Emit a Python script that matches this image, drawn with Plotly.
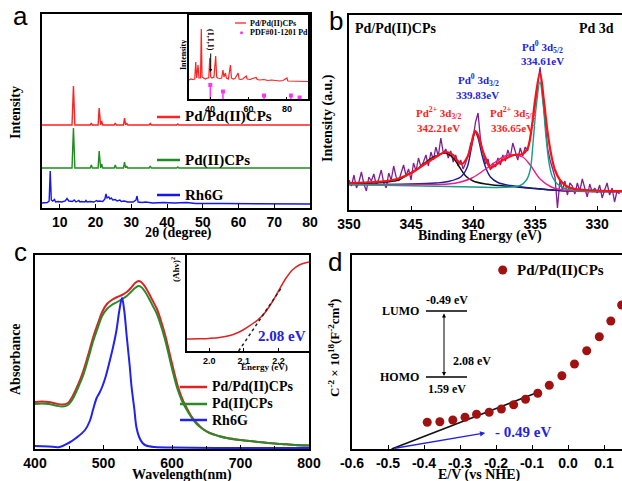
import plotly.graph_objects as go

W, H = 622, 481
SERIF = "Liberation Serif"
SANS = "Liberation Sans"

# ---------------- Panel a : XRD ----------------
xrd_red_x = [5, 10, 13.4, 13.8, 14.2, 18.5, 18.8, 19.1, 20.7, 21.0, 21.4, 21.7, 22.0, 25.2, 25.5, 25.8,
             27.8, 28.1, 28.4, 28.7, 29.0, 35.0, 35.3, 35.6, 42.7, 43.0, 43.3, 80]
xrd_red_y = [83, 83, 83, 122, 83, 83, 85, 83, 83, 100, 83, 87, 83, 83, 85, 83,
             83, 90, 83, 85, 83, 83, 84.5, 83, 83, 84, 83, 83]
xrd_green_x = xrd_red_x
xrd_green_y = [40, 40, 40, 80, 40, 40, 43, 40, 40, 57, 40, 44, 40, 40, 43, 40,
               40, 46, 40, 42, 40, 40, 42, 40, 40, 41, 40, 40]
xrd_blue_x = [5, 6.5, 7.0, 7.3, 7.6, 8.0, 8.5, 8.8, 9.5, 10.5, 11.5, 12.0, 12.5, 13.5, 14.0, 14.5,
              15.3, 15.6, 16, 17, 17.3, 17.6, 18.5, 19.5, 20.3, 20.6, 21, 22.0, 22.6, 22.9, 23.2,
              23.7, 24.0, 24.4, 24.8, 25.5, 26.0, 26.8, 27.2, 28.0, 29.0, 30.5, 31.3, 31.6, 31.9,
              33, 34, 36, 39, 42, 45.5, 48, 55, 65, 80]
xrd_blue_y = [5, 5.5, 7, 37, 8, 7, 8.5, 6, 6.5, 6, 7, 9.5, 7, 6.5, 8, 6,
              7.5, 6, 6.5, 6, 7.5, 6, 6.5, 6, 7.5, 6.5, 7, 6.5, 9, 14, 10,
              11, 9, 10, 8, 8.5, 7, 8, 6.5, 7, 6, 6, 8, 12, 6,
              5.5, 6, 5, 5.5, 5, 5.5, 4.5, 4.5, 4, 4]
xrd_ticks = [10, 20, 30, 40, 50, 60, 70, 80]

# inset a
ins_a_x = [29, 30, 31, 32, 32.5, 33.0, 33.7, 34.2, 35.0, 35.4, 35.8, 36.5, 37.5, 38.5, 39.3, 39.8,
           40.3, 41, 42, 42.9, 43.4, 44, 45, 46, 46.7, 47.2, 48, 48.5, 49.5, 50.6, 51.1, 52, 53,
           54.6, 55.1, 56, 57, 58.8, 59.3, 61, 62, 64, 64.5, 66, 68, 70, 72, 74, 76, 78, 80, 80.5,
           83, 86, 88, 91]
ins_a_y = [19, 20, 19.5, 20, 37, 21, 34, 21, 21, 70, 22, 21, 20, 21, 21, 41,
           22, 21, 22, 43, 22, 21, 20.5, 21, 29, 22, 26, 21, 20, 34, 21, 20, 20.5,
           26, 20, 19.5, 20, 23, 20, 19.5, 20.5, 21.5, 19.5, 19, 19.5, 18.5, 19, 18.5, 18, 18.5, 21, 18,
           18, 17.5, 18, 17.5]
pdf_x = [40.1, 46.7, 68.1, 82.1, 86.6]
pdf_h = [14, 7.5, 3.5, 3.5, 1.5]
ins_a_ticks = [40, 60, 80]

# ---------------- Panel b : XPS ----------------
raw_E = [round(350 - 0.2 * i, 1) for i in range(110)]
raw_I = [30, 24, 35, 22, 28, 38, 26, 19, 33, 29,
         36, 25, 31, 40, 27, 22, 37, 30, 44, 33,
         29, 38, 45, 34, 41, 30, 47, 39, 52, 43,
         48, 55, 44, 58, 50, 63, 54, 72, 57, 61,
         52, 59, 48, 55, 44, 50, 41, 47, 55, 66,
         72, 88, 97, 70, 58, 46, 51, 40, 47, 43,
         52, 45, 55, 49, 60, 53, 67, 58, 50, 62,
         54, 63, 59, 72, 88, 105, 125, 143, 115, 85,
         62, 50, 41, 33, 2, 30, 20, 29, 15, 27,
         24, 16, 27, 19, 31, 21, 13, 26, 18, 22,
         17, 25, 12, 20, 27, 15, 22, 8, 19, 16]

fit_black_E = [350, 348, 347, 346, 345.3, 344.5, 343.8, 343, 342.21, 341.6, 341.1, 340.6, 340, 339,
               337.5, 335, 333, 329, 328]
fit_black_I = [26, 27, 28, 30, 35, 41, 48, 54, 57, 52, 43, 34, 29, 26, 24, 21.5, 19.5, 18.5, 18.5]
fit_blue_E = [350, 345, 343, 342, 341, 340.5, 340.2, 339.95, 339.83, 339.6, 339.3, 339, 338.6, 338,
              337, 335, 333, 329, 328]
fit_blue_I = [25.5, 26, 27, 28.5, 33, 42, 58, 74, 78, 72, 56, 43, 33, 27.5, 24.5, 21.5, 19.5, 18.5, 18.5]
fit_mag_E = [350, 344, 342, 341, 340.1, 339.1, 338.2, 337.4, 336.65, 336, 335.4, 334.6, 333.7, 333,
             332, 329, 328]
fit_mag_I = [25.5, 25.5, 26, 28, 32, 40, 48, 54, 55, 53, 45, 31, 23, 20.5, 19, 18.5, 18.5]
fit_teal_E = [350, 340, 338, 337, 336.2, 335.7, 335.4, 335.15, 334.9, 334.61, 334.35, 334.1, 333.85,
              333.6, 333.2, 332.5, 331, 329, 328]
fit_teal_I = [25.5, 23, 22.5, 23, 24.5, 30, 40, 70, 105, 128, 105, 70, 45, 33, 26, 21, 19, 18.5, 18.5]
fit_sum_E = [350, 348, 347, 346, 345, 344, 343, 342.2, 341.6, 341.3, 340.9, 340.5, 340.2, 340.0,
             339.83, 339.6, 339.3, 339.0, 338.6, 338.3, 337.6, 336.7, 336.0, 335.6, 335.3, 335.0,
             334.61, 334.3, 334.0, 333.7, 333.4, 333.0, 332.5, 332.0, 331, 329, 328]
fit_sum_I = [27, 28, 29, 31.5, 37, 45, 53, 58, 55, 50, 46, 52, 62, 74,
             79, 75, 62, 52, 42, 44, 50, 55, 56, 62, 80, 110,
             137, 110, 78, 55, 40, 30, 24, 21.5, 20, 19, 19]
xps_ticks = [350, 345, 340, 335, 330]

# ---------------- Panel c : UV-vis ----------------
uv_red_x = [400, 410, 420, 430, 440, 448, 455, 462, 470, 478, 485, 492, 498, 505, 512, 520, 527, 534,
            540, 546, 551, 555, 560, 566, 572, 578, 584, 590, 596, 602, 608, 614, 620, 628, 636, 645,
            655, 668, 680, 700, 720, 740, 760, 780, 800]
uv_red_y = [47, 47.5, 47, 45.5, 44.5, 46, 53, 63, 77, 95, 112, 126, 137, 145, 149, 152, 154, 157,
            161, 166, 168, 167, 163, 156, 148, 140, 128, 114, 97, 80, 64, 52, 43, 33, 26, 20,
            16, 13, 11, 9, 7.5, 6, 5, 4, 3.5]
uv_green_x = uv_red_x
uv_green_y = [45, 45.5, 45, 43.5, 42.5, 44, 50, 60, 73, 91, 108, 122, 133, 140, 144, 147, 150, 153,
              157, 161, 163, 162, 158, 151, 143, 135, 123, 109, 92, 75, 60, 49, 41, 32, 25, 20,
              16, 13, 11, 9, 7.5, 6, 5, 4, 3.5]
uv_blue_x = [400, 420, 436, 449, 460, 473, 480, 485, 490, 494, 498, 503, 508, 514, 519, 523, 527,
             530, 534, 538, 541, 545, 548, 552, 557, 562, 575, 600, 700, 800]
uv_blue_y = [3, 2.5, 2, 6, 11, 19, 28, 40, 51, 56, 62, 72, 85, 102, 119, 138, 151,
             140, 112, 85, 62, 40, 22, 12, 6, 3.5, 2, 1.5, 1, 1]
uv_ticks = [400, 500, 600, 700, 800]

tauc_x = [1.936, 1.97, 2.0, 2.03, 2.06, 2.08, 2.10, 2.12, 2.14, 2.16, 2.18, 2.20, 2.22, 2.24, 2.26, 2.288]
tauc_y = [12, 12.2, 12.6, 13.5, 15.5, 18, 21.5, 26, 31, 38, 48, 60, 72, 81, 86, 89]
tangent_x = [2.085, 2.21]
tangent_y = [0, 64]
tauc_ticks = [2.0, 2.1, 2.2]

# ---------------- Panel d : Mott-Schottky ----------------
ms_x = [-0.391, -0.356, -0.320, -0.286, -0.254, -0.219, -0.185, -0.151, -0.118, -0.084,
        -0.052, -0.017, 0.018, 0.052, 0.087, 0.119, 0.149]
ms_y = [26.7, 27.3, 29, 31.7, 34.7, 36.7, 40, 44.3, 49.7, 55.7,
        63.7, 73.3, 85, 98.3, 112.3, 128, 144]
ms_fit_x = [-0.49, -0.078]
ms_fit_y = [0, 57.5]
ms_ticks = [-0.6, -0.5, -0.4, -0.3, -0.2, -0.1, 0.0, 0.1]
ms_ticktext = ["-0.6", "-0.5", "-0.4", "-0.3", "-0.2", "-0.1", "0.0", "0.1"]


def PX(x):
    return x / W


def PY(y):
    return 1 - y / H


fig = go.Figure()


def line(x, y, color, width, xa, ya, shape="linear", dash=None):
    fig.add_trace(go.Scatter(x=x, y=y, mode="lines", xaxis=xa, yaxis=ya,
                             line=dict(color=color, width=width, shape=shape, dash=dash),
                             hoverinfo="skip"))


# panel a
line(xrd_red_x, xrd_red_y, "#ff2222", 1.4, "x", "y")
line(xrd_green_x, xrd_green_y, "#1e8c1e", 1.4, "x", "y")
line(xrd_blue_x, xrd_blue_y, "#1515ee", 1.4, "x", "y")
# inset a
line(ins_a_x, ins_a_y, "#ff2222", 1.2, "x2", "y2")
stick_x, stick_y = [], []
for xv, hv in zip(pdf_x, pdf_h):
    stick_x += [xv, xv, None]
    stick_y += [0, hv, None]
line(stick_x, stick_y, "#ff33ff", 1.5, "x2", "y2")
fig.add_trace(go.Scatter(x=pdf_x, y=pdf_h, mode="markers", xaxis="x2", yaxis="y2",
                         marker=dict(color="#ff33ff", size=4, symbol="square")))

# panel b
line(raw_E, raw_I, "#7f1f8f", 1.3, "x3", "y3")
line(fit_black_E, fit_black_I, "#111111", 1.4, "x3", "y3", "spline")
line(fit_blue_E, fit_blue_I, "#1a1a9a", 1.4, "x3", "y3", "spline")
line(fit_mag_E, fit_mag_I, "#ee1a8a", 1.4, "x3", "y3", "spline")
line(fit_teal_E, fit_teal_I, "#1a9a8a", 1.4, "x3", "y3", "spline")
line(fit_sum_E, fit_sum_I, "#ff1010", 2.2, "x3", "y3", "spline")

# panel c
line(uv_red_x, uv_red_y, "#dd2222", 2.0, "x4", "y4", "spline")
line(uv_green_x, uv_green_y, "#2a8a2a", 2.0, "x4", "y4", "spline")
line(uv_blue_x, uv_blue_y, "#2222ee", 2.0, "x4", "y4", "spline")
# inset c
line(tauc_x, tauc_y, "#dd2222", 1.5, "x5", "y5", "spline")
line(tangent_x, tangent_y, "#222222", 1.5, "x5", "y5", dash="dot")

# panel d
line(ms_fit_x, ms_fit_y, "#111111", 1.6, "x6", "y6")
fig.add_trace(go.Scatter(x=ms_x, y=ms_y, mode="markers", xaxis="x6", yaxis="y6",
                         marker=dict(color="#a01212", size=9)))

tickfont = dict(family=SANS, size=14, color="black", weight="bold")
small_tickfont = dict(family=SANS, size=9, color="black", weight="bold")
base = dict(showline=True, linecolor="black", linewidth=1.5, showgrid=False, zeroline=False,
            tickcolor="black", tickwidth=1.3, automargin=False)
noy = dict(showticklabels=False, ticks="")

layout = dict(
    width=W, height=H, margin=dict(l=0, r=0, t=0, b=0, pad=0, autoexpand=False), showlegend=False,
    paper_bgcolor="white", plot_bgcolor="white",
    xaxis=dict(domain=[42 / W, 310 / W], range=[5, 80], anchor="y", tickvals=xrd_ticks,
               ticks="inside", ticklen=4, tickfont=tickfont, mirror=True, **base),
    yaxis=dict(domain=[PY(208), PY(14)], range=[0, 194], anchor="x", mirror=True, **noy, **base),
    xaxis2=dict(domain=[189 / W, 308 / W], range=[29, 91], anchor="y2", tickvals=ins_a_ticks,
                ticks="inside", ticklen=2, tickfont=small_tickfont, mirror=True, **base),
    yaxis2=dict(domain=[PY(99), PY(15)], range=[0, 84], anchor="x2", mirror=True, **noy, **base),
    xaxis3=dict(domain=[349 / W, 1], range=[350, 328], anchor="y3", tickvals=xps_ticks,
                ticks="inside", ticklen=4, tickfont=tickfont, mirror=True, **base),
    yaxis3=dict(domain=[PY(210), PY(15)], range=[0, 195], anchor="x3", mirror=False, **noy, **base),
    xaxis4=dict(domain=[35 / W, 309 / W], range=[400, 800], anchor="y4", tickvals=uv_ticks,
                ticks="inside", ticklen=4, tickfont=tickfont, mirror=True,
                minor=dict(dtick=50, ticks="inside", ticklen=3, tickcolor="black"), **base),
    yaxis4=dict(domain=[PY(449), PY(255)], range=[0, 194], anchor="x4", mirror=True, **noy, **base),
    xaxis5=dict(domain=[187 / W, 309 / W], range=[1.936, 2.288], anchor="y5", tickvals=tauc_ticks,
                ticktext=["2.0", "2.1", "2.2"], ticks="inside", ticklen=3,
                tickfont=small_tickfont, mirror=True, **base),
    yaxis5=dict(domain=[PY(351), PY(255)], range=[0, 96], anchor="x5", mirror=True, **noy, **base),
    xaxis6=dict(domain=[352 / W, 1], range=[-0.6, 0.15], anchor="y6", tickvals=ms_ticks,
                ticktext=ms_ticktext, ticks="inside", ticklen=4, tickfont=tickfont, mirror=True,
                **base),
    yaxis6=dict(domain=[PY(449), PY(255)], range=[0, 194], anchor="x6", mirror=False, **noy, **base),
)
fig.update_layout(**layout)

anns = []


def ann(text, x, y, size, color="black", xanchor="center", angle=0, family=SERIF, bold=True):
    t = f"<b>{text}</b>" if bold else text
    anns.append(dict(text=t, x=PX(x), y=PY(y), xref="paper", yref="paper", showarrow=False,
                     xanchor=xanchor, yanchor="middle", textangle=angle,
                     font=dict(family=family, size=size, color=color)))


# panel letters
ann("a", 20, 16, 26, family=SANS, bold=False)
ann("b", 336, 21, 26, family=SANS, bold=False)
ann("c", 20, 252, 26, family=SANS, bold=False)
ann("d", 335, 262, 26, family=SANS, bold=False)

# panel a text
ann("Intensity", 15, 112, 14, angle=-90)
ann("2θ (degree)", 178, 233, 14)
ann("Pd/Pd(II)CPs", 183, 117, 15, xanchor="left")
ann("Pd(II)CPs", 183, 160, 15, xanchor="left")
ann("Rh6G", 183, 195, 15, xanchor="left")
ann("Intensity", 183, 55, 8, angle=-90)
ann("Pd/Pd(II)CPs", 248, 23, 8, xanchor="left")
ann("PDF#01-1201 Pd", 248, 33, 8, xanchor="left")
ann("(1,1,1)", 211, 40, 8, angle=90)

# panel b text
ann("Pd/Pd(II)CPs", 353, 29, 14, xanchor="left")
ann("Pd 3d", 616, 29, 14, xanchor="right")
BLUE = "#2323e0"
RED = "#ff2020"
ann("Pd<sup>0</sup> 3d<sub>5/2</sub>", 542, 47, 11, BLUE)
ann("334.61eV", 542, 61, 11, BLUE)
ann("Pd<sup>0</sup> 3d<sub>3/2</sub>", 478, 80, 11, BLUE)
ann("339.83eV", 477, 95, 11, BLUE)
ann("Pd<sup>2+</sup> 3d<sub>3/2</sub>", 438, 113, 11, RED)
ann("342.21eV", 438, 128, 11, RED)
ann("Pd<sup>2+</sup> 3d<sub>5/2</sub>", 512, 113, 11, RED)
ann("336.65eV", 512, 128, 11, RED)
ann("Intensity (a.u.)", 328, 118, 14, angle=-90)
ann("Binding Energy (eV)", 480, 236, 14)

# panel c text
ann("Absorbance", 15, 359, 14, angle=-90)
ann("Wavelength(nm)", 182, 475, 14)
ann("Pd/Pd(II)CPs", 210, 387, 14, xanchor="left")
ann("Pd(II)CPs", 210, 404, 14, xanchor="left")
ann("Rh6G", 210, 420, 14, xanchor="left")
ann("(Ahv)<sup>2</sup>", 175, 270, 9, angle=-90)
ann("Energy (eV)", 264, 367, 9)
ann("2.08 eV", 282, 336, 15, BLUE)

# panel d text
ann("C<sup>-2</sup> × 10<sup>18</sup>(F<sup>-2</sup>cm<sup>4</sup>)", 334, 348, 13, angle=-90)
ann("E/V (vs NHE)", 480, 475, 14)
ann("Pd/Pd(II)CPs", 515, 270, 15, xanchor="left")
ann("LUMO", 421, 311, 12, xanchor="right")
ann("-0.49 eV", 447, 300, 12)
ann("HOMO", 421, 377, 12, xanchor="right")
ann("1.59 eV", 447, 389, 12)
ann("2.08 eV", 472, 361, 12)
ann("- 0.49 eV", 523, 432, 15, BLUE)

# arrows
anns.append(dict(x=40.3, y=27, xref="x2", yref="y2", ax=40.3, ay=47, axref="x2", ayref="y2",
                 showarrow=True, arrowhead=2, arrowsize=0.6, arrowwidth=1, arrowcolor="black", text=""))
anns.append(dict(x=-0.23, y=16, xref="x6", yref="y6", ax=-0.485, ay=0.5, axref="x6", ayref="y6",
                 showarrow=True, arrowhead=2, arrowsize=0.8, arrowwidth=1.3, arrowcolor="#2323e0", text=""))
anns.append(dict(x=PX(444), y=PY(376), xref="paper", yref="paper", ax=0, ay=-64,
                 showarrow=True, arrowhead=2, arrowsize=0.8, arrowwidth=1, arrowside="end+start",
                 arrowcolor="black", text=""))
fig.update_layout(annotations=anns)

shapes = []


def seg(x0, y0, x1, y1, color, width):
    shapes.append(dict(type="line", xref="paper", yref="paper", x0=PX(x0), y0=PY(y0), x1=PX(x1),
                       y1=PY(y1), line=dict(color=color, width=width)))


def dot(x, y, r, color):
    shapes.append(dict(type="circle", xref="paper", yref="paper", x0=PX(x - r), y0=PY(y + r),
                       x1=PX(x + r), y1=PY(y - r), fillcolor=color, line=dict(width=0)))


seg(157, 117, 180, 117, "#ff2222", 2.5)
seg(157, 160, 180, 160, "#1e8c1e", 2.5)
seg(157, 195, 180, 195, "#1515ee", 2.5)
seg(235, 23, 246, 23, "#ff2222", 1.3)
dot(241.5, 32.7, 1.5, "#ff33ff")
seg(180, 387, 207, 387, "#dd2222", 2.5)
seg(180, 404, 207, 404, "#2a8a2a", 2.5)
seg(180, 420, 207, 420, "#2222ee", 2.5)
seg(426, 311, 467, 311, "black", 1.5)
seg(426, 377, 467, 377, "black", 1.5)
dot(502.7, 270, 4.5, "#a01212")
fig.update_layout(shapes=shapes)

fig.write_html("out.html", config={"displayModeBar": False},
               post_script="document.body.style.margin='0px';document.body.style.padding='0px';"
                           "document.body.style.overflow='hidden';")
